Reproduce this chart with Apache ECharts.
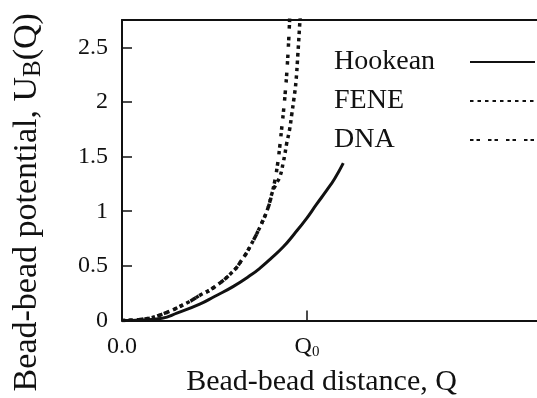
<!DOCTYPE html>
<html><head><meta charset="utf-8">
<script src="https://cdn.jsdelivr.net/npm/echarts@6/dist/echarts.min.js"></script>
<style>html,body{margin:0;padding:0;background:#fff}#c{width:537px;height:398px}</style>
</head><body><div id="c"></div>
<script>
// ---- data (Q in units of Q0, U in plot units) ----
const seriesNames = ['Hookean', 'FENE', 'DNA'];

const hookeanQ = [0, 0.1, 0.216, 0.3, 0.42, 0.5, 0.6, 0.7, 0.746, 0.8, 0.872, 0.93, 0.998, 1.05, 1.106, 1.15, 1.196];
const hookeanU = [0, 0.005, 0.02, 0.07, 0.15, 0.22, 0.31, 0.42, 0.48, 0.56, 0.675, 0.79, 0.935, 1.06, 1.19, 1.30, 1.44];

const feneQ = [0, 0.1, 0.205, 0.35, 0.42, 0.494, 0.6, 0.65, 0.69, 0.755, 0.791, 0.81, 0.83, 0.854, 0.872, 0.881, 0.89, 0.905, 0.917, 0.93, 0.94, 0.951, 0.962, 0.966];
const feneU = [0, 0.01, 0.05, 0.16, 0.23, 0.30, 0.45, 0.56, 0.67, 0.89, 1.04, 1.16, 1.24, 1.32, 1.45, 1.53, 1.62, 1.74, 1.88, 2.04, 2.18, 2.45, 2.75, 2.85];

const dnaQ = [0, 0.1, 0.205, 0.35, 0.42, 0.494, 0.6, 0.65, 0.69, 0.755, 0.791, 0.81, 0.825, 0.84, 0.852, 0.862, 0.872, 0.882, 0.892, 0.902, 0.907];
const dnaU = [0, 0.01, 0.05, 0.16, 0.23, 0.30, 0.45, 0.56, 0.67, 0.89, 1.04, 1.16, 1.27, 1.42, 1.58, 1.74, 1.90, 2.08, 2.30, 2.60, 2.80];

const xTickValues = [0, 1];
const xTickLabels = ['0.0', '{q|Q}{s|0}'];
const yTickValues = [0, 0.5, 1, 1.5, 2, 2.5];
const yTickLabels = ['0', '0.5', '1', '1.5', '2', '2.5'];

const xTitle = 'Bead-bead distance, Q';
const yTitle = '{a|Bead-bead potential, U}{b|B}{a|(Q)}';

// ---- chart ----
const FONT = 'Liberation Serif';
const INK = '#111';
const zip = (a, b) => a.map((v, i) => [v, b[i]]);

const chart = echarts.init(document.getElementById('c'), null, {renderer: 'canvas'});
chart.setOption({
  animation: false,
  backgroundColor: '#fff',
  grid: {left: 122, right: 0, top: 20, bottom: 77.5, outerBoundsMode: 'none', containLabel: false},
  xAxis: [{
    type: 'value', min: 0, max: 2.243,
    axisLine: {show: true, onZero: false, lineStyle: {color: INK, width: 2}},
    axisTick: {show: true, inside: true, length: 10, customValues: xTickValues, lineStyle: {color: INK, width: 1.5}},
    axisLabel: {
      customValues: xTickValues, margin: 14,
      fontFamily: FONT, fontSize: 24, color: INK,
      formatter: v => xTickLabels[xTickValues.indexOf(v)] ?? '',
      rich: {q: {fontFamily: FONT, fontSize: 24, color: INK}, s: {fontFamily: FONT, fontSize: 15, color: INK, padding: [10, 0, 0, 0]}}
    },
    splitLine: {show: false},
    name: xTitle, nameLocation: 'middle', nameGap: 47,
    nameTextStyle: {fontFamily: FONT, fontSize: 30, color: INK, padding: [0, 16, 0, 0]}
  }, {
    type: 'value', min: 0, max: 2.243, position: 'top',
    axisLine: {show: true, onZero: false, lineStyle: {color: INK, width: 2}},
    axisTick: {show: false}, axisLabel: {show: false}, splitLine: {show: false}
  }],
  yAxis: {
    type: 'value', min: 0, max: 2.75,
    axisLine: {show: true, onZero: false, lineStyle: {color: INK, width: 2}},
    axisTick: {show: true, inside: true, length: 10, customValues: yTickValues, lineStyle: {color: INK, width: 1.5}},
    axisLabel: {
      customValues: yTickValues, margin: 14,
      fontFamily: FONT, fontSize: 24, color: INK,
      formatter: v => yTickLabels[yTickValues.indexOf(v)] ?? ''
    },
    splitLine: {show: false},
    name: yTitle, nameLocation: 'middle', nameGap: 76, nameRotate: 90,
    nameTextStyle: {
      padding: [0, 64, 0, 0],
      rich: {
        a: {fontFamily: FONT, fontSize: 34, color: INK},
        b: {fontFamily: FONT, fontSize: 25, color: INK, padding: [12, 0, 0, 0]}
      }
    }
  },
  legend: {
    orient: 'vertical', left: 329, top: 43, align: 'right',
    itemWidth: 65, itemHeight: 4, itemGap: 11, selectedMode: false,
    itemStyle: {opacity: 0},
    data: seriesNames,
    formatter: n => '{n|' + n + '}',
    textStyle: {
      fontFamily: FONT, fontSize: 28, color: INK,
      rich: {n: {fontFamily: FONT, fontSize: 28, color: INK, width: 131, align: 'left', lineHeight: 34}}
    }
  },
  series: [
    {name: seriesNames[0], type: 'line', data: zip(hookeanQ, hookeanU), symbol: 'none', smooth: true,
     lineStyle: {color: INK, width: 3}, itemStyle: {color: INK}},
    {name: seriesNames[1], type: 'line', data: zip(feneQ, feneU), symbol: 'none', smooth: true,
     lineStyle: {color: INK, width: 3.5, type: [3.5, 4]}, itemStyle: {color: INK}},
    {name: seriesNames[2], type: 'line', data: zip(dnaQ, dnaU), symbol: 'none', smooth: true,
     lineStyle: {color: INK, width: 3.5, type: [3.5, 3, 3.5, 8]}, itemStyle: {color: INK}}
  ]
});
</script></body></html>
